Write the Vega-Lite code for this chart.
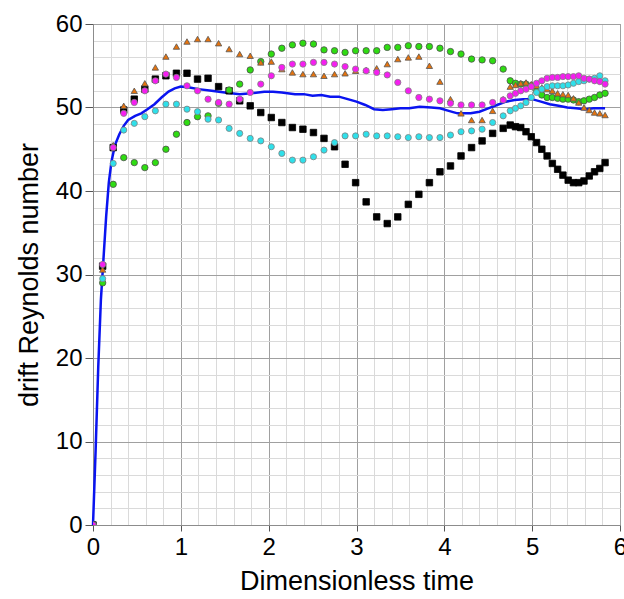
{
  "$schema": "https://vega.github.io/schema/vega-lite/v6.json",
  "width": 527,
  "height": 501,
  "autosize": {"type": "none"},
  "padding": {"left": 93, "top": 24, "right": 4, "bottom": 74},
  "background": "white",
  "config": {
    "view": {"stroke": "#8c8c8c", "strokeWidth": 1},
    "font": "Liberation Sans",
    "axis": {"labelFont": "Liberation Sans", "titleFont": "Liberation Sans", "labelColor": "#000", "titleColor": "#000", "titleFontWeight": "normal", "labelFontSize": 24, "titleFontSize": 27, "domainColor": "#8c8c8c", "tickColor": "#555", "labelOverlap": false, "labelFlush": false, "labelBound": false}
  },
  "datasets": {
    "blue": [
      {"t": 0, "v": 0}, {"t": 0.03, "v": 9}, {"t": 0.06, "v": 19}, {"t": 0.09, "v": 27}, {"t": 0.12, "v": 32}, {"t": 0.15, "v": 37}, {"t": 0.18, "v": 41}, {"t": 0.21, "v": 43.5}, {"t": 0.25, "v": 45.5}, {"t": 0.3, "v": 46.8}, {"t": 0.35, "v": 47.8}, {"t": 0.4, "v": 48.5}, {"t": 0.48, "v": 49}, {"t": 0.55, "v": 49.3}, {"t": 0.62, "v": 49.8}, {"t": 0.7, "v": 50.4}, {"t": 0.78, "v": 51.2}, {"t": 0.86, "v": 51.9}, {"t": 0.93, "v": 52.3}, {"t": 1.0, "v": 52.5}, {"t": 1.1, "v": 52.4}, {"t": 1.2, "v": 52.2}, {"t": 1.35, "v": 52.0}, {"t": 1.5, "v": 51.8}, {"t": 1.67, "v": 51.6}, {"t": 1.8, "v": 51.7}, {"t": 1.95, "v": 51.9}, {"t": 2.05, "v": 51.9}, {"t": 2.15, "v": 51.8}, {"t": 2.3, "v": 51.6}, {"t": 2.4, "v": 51.6}, {"t": 2.5, "v": 51.4}, {"t": 2.6, "v": 51.5}, {"t": 2.7, "v": 51.3}, {"t": 2.8, "v": 51.3}, {"t": 2.9, "v": 51.0}, {"t": 3.0, "v": 50.7}, {"t": 3.1, "v": 50.3}, {"t": 3.2, "v": 49.8}, {"t": 3.3, "v": 49.7}, {"t": 3.4, "v": 49.8}, {"t": 3.5, "v": 49.9}, {"t": 3.6, "v": 49.9}, {"t": 3.72, "v": 50.1}, {"t": 3.85, "v": 50.0}, {"t": 3.95, "v": 49.9}, {"t": 4.05, "v": 49.6}, {"t": 4.15, "v": 49.3}, {"t": 4.3, "v": 49.3}, {"t": 4.4, "v": 49.5}, {"t": 4.5, "v": 49.9}, {"t": 4.6, "v": 50.3}, {"t": 4.7, "v": 50.7}, {"t": 4.8, "v": 50.9}, {"t": 4.9, "v": 51.0}, {"t": 5.0, "v": 51.0}, {"t": 5.1, "v": 50.7}, {"t": 5.2, "v": 50.4}, {"t": 5.3, "v": 50.2}, {"t": 5.4, "v": 50.0}, {"t": 5.5, "v": 49.9}, {"t": 5.6, "v": 49.8}, {"t": 5.7, "v": 49.9}, {"t": 5.83, "v": 49.9}
    ],
    "pts": [
      {"s": "k", "t": 0, "v": 0}, {"s": "k", "t": 0.11, "v": 31.0}, {"s": "k", "t": 0.23, "v": 45.2}, {"s": "k", "t": 0.35, "v": 49.7}, {"s": "k", "t": 0.47, "v": 51.0}, {"s": "k", "t": 0.59, "v": 52.2}, {"s": "k", "t": 0.71, "v": 53.4}, {"s": "k", "t": 0.83, "v": 53.8}, {"s": "k", "t": 0.95, "v": 54.1}, {"s": "k", "t": 1.07, "v": 54.1}, {"s": "k", "t": 1.19, "v": 53.4}, {"s": "k", "t": 1.31, "v": 53.5}, {"s": "k", "t": 1.43, "v": 52.5}, {"s": "k", "t": 1.55, "v": 52.0}, {"s": "k", "t": 1.67, "v": 50.8}, {"s": "k", "t": 1.79, "v": 50.2}, {"s": "k", "t": 1.91, "v": 49.4}, {"s": "k", "t": 2.03, "v": 48.8}, {"s": "k", "t": 2.15, "v": 48.2}, {"s": "k", "t": 2.27, "v": 47.6}, {"s": "k", "t": 2.39, "v": 47.4}, {"s": "k", "t": 2.51, "v": 47.0}, {"s": "k", "t": 2.63, "v": 46.3}, {"s": "k", "t": 2.75, "v": 45.3}, {"s": "k", "t": 2.87, "v": 43.2}, {"s": "k", "t": 2.99, "v": 41.0}, {"s": "k", "t": 3.11, "v": 38.7}, {"s": "k", "t": 3.23, "v": 36.9}, {"s": "k", "t": 3.35, "v": 36.1}, {"s": "k", "t": 3.47, "v": 36.9}, {"s": "k", "t": 3.59, "v": 38.4}, {"s": "k", "t": 3.71, "v": 39.6}, {"s": "k", "t": 3.83, "v": 41.0}, {"s": "k", "t": 3.95, "v": 42.3}, {"s": "k", "t": 4.07, "v": 43.0}, {"s": "k", "t": 4.19, "v": 44.2}, {"s": "k", "t": 4.31, "v": 45.2}, {"s": "k", "t": 4.43, "v": 46.0}, {"s": "k", "t": 4.55, "v": 46.9}, {"s": "k", "t": 4.67, "v": 47.5}, {"s": "k", "t": 4.75, "v": 47.9}, {"s": "k", "t": 4.81, "v": 47.7}, {"s": "k", "t": 4.87, "v": 47.6}, {"s": "k", "t": 4.93, "v": 47.1}, {"s": "k", "t": 4.99, "v": 46.5}, {"s": "k", "t": 5.05, "v": 45.8}, {"s": "k", "t": 5.11, "v": 45.0}, {"s": "k", "t": 5.17, "v": 44.2}, {"s": "k", "t": 5.23, "v": 43.3}, {"s": "k", "t": 5.29, "v": 42.6}, {"s": "k", "t": 5.35, "v": 41.9}, {"s": "k", "t": 5.41, "v": 41.3}, {"s": "k", "t": 5.47, "v": 41.0}, {"s": "k", "t": 5.53, "v": 41.0}, {"s": "k", "t": 5.59, "v": 41.2}, {"s": "k", "t": 5.65, "v": 41.8}, {"s": "k", "t": 5.71, "v": 42.3}, {"s": "k", "t": 5.77, "v": 42.7}, {"s": "k", "t": 5.83, "v": 43.4},
      {"s": "g", "t": 0, "v": 0}, {"s": "g", "t": 0.11, "v": 29.0}, {"s": "g", "t": 0.23, "v": 40.8}, {"s": "g", "t": 0.35, "v": 44.0}, {"s": "g", "t": 0.47, "v": 43.4}, {"s": "g", "t": 0.59, "v": 42.8}, {"s": "g", "t": 0.71, "v": 43.4}, {"s": "g", "t": 0.83, "v": 45.0}, {"s": "g", "t": 0.95, "v": 46.8}, {"s": "g", "t": 1.07, "v": 48.2}, {"s": "g", "t": 1.19, "v": 48.9}, {"s": "g", "t": 1.31, "v": 49.0}, {"s": "g", "t": 1.43, "v": 50.5}, {"s": "g", "t": 1.55, "v": 52.1}, {"s": "g", "t": 1.67, "v": 52.8}, {"s": "g", "t": 1.79, "v": 54.5}, {"s": "g", "t": 1.91, "v": 55.5}, {"s": "g", "t": 2.03, "v": 56.4}, {"s": "g", "t": 2.15, "v": 57.1}, {"s": "g", "t": 2.27, "v": 57.5}, {"s": "g", "t": 2.39, "v": 57.7}, {"s": "g", "t": 2.51, "v": 57.6}, {"s": "g", "t": 2.63, "v": 56.9}, {"s": "g", "t": 2.75, "v": 56.8}, {"s": "g", "t": 2.87, "v": 56.6}, {"s": "g", "t": 2.99, "v": 56.8}, {"s": "g", "t": 3.11, "v": 56.8}, {"s": "g", "t": 3.23, "v": 56.8}, {"s": "g", "t": 3.35, "v": 57.2}, {"s": "g", "t": 3.47, "v": 57.2}, {"s": "g", "t": 3.59, "v": 57.4}, {"s": "g", "t": 3.71, "v": 57.3}, {"s": "g", "t": 3.83, "v": 57.3}, {"s": "g", "t": 3.95, "v": 57.1}, {"s": "g", "t": 4.07, "v": 56.7}, {"s": "g", "t": 4.19, "v": 56.4}, {"s": "g", "t": 4.31, "v": 55.8}, {"s": "g", "t": 4.43, "v": 55.7}, {"s": "g", "t": 4.55, "v": 55.6}, {"s": "g", "t": 4.67, "v": 54.6}, {"s": "g", "t": 4.75, "v": 53.2}, {"s": "g", "t": 4.81, "v": 52.9}, {"s": "g", "t": 4.87, "v": 52.8}, {"s": "g", "t": 4.93, "v": 52.8}, {"s": "g", "t": 4.99, "v": 52.6}, {"s": "g", "t": 5.05, "v": 52.0}, {"s": "g", "t": 5.11, "v": 51.5}, {"s": "g", "t": 5.17, "v": 51.2}, {"s": "g", "t": 5.23, "v": 51.2}, {"s": "g", "t": 5.29, "v": 51.1}, {"s": "g", "t": 5.35, "v": 51.0}, {"s": "g", "t": 5.41, "v": 51.0}, {"s": "g", "t": 5.47, "v": 50.9}, {"s": "g", "t": 5.53, "v": 50.7}, {"s": "g", "t": 5.59, "v": 50.8}, {"s": "g", "t": 5.65, "v": 51.0}, {"s": "g", "t": 5.71, "v": 51.2}, {"s": "g", "t": 5.77, "v": 51.5}, {"s": "g", "t": 5.83, "v": 51.7},
      {"s": "o", "t": 0, "v": 0}, {"s": "o", "t": 0.11, "v": 30.6}, {"s": "o", "t": 0.23, "v": 45.5}, {"s": "o", "t": 0.35, "v": 50.2}, {"s": "o", "t": 0.47, "v": 52.0}, {"s": "o", "t": 0.59, "v": 52.9}, {"s": "o", "t": 0.71, "v": 54.8}, {"s": "o", "t": 0.83, "v": 56.1}, {"s": "o", "t": 0.95, "v": 57.3}, {"s": "o", "t": 1.07, "v": 57.9}, {"s": "o", "t": 1.19, "v": 58.2}, {"s": "o", "t": 1.31, "v": 58.2}, {"s": "o", "t": 1.43, "v": 57.7}, {"s": "o", "t": 1.55, "v": 57.0}, {"s": "o", "t": 1.67, "v": 56.4}, {"s": "o", "t": 1.79, "v": 56.2}, {"s": "o", "t": 1.91, "v": 55.4}, {"s": "o", "t": 2.03, "v": 55.5}, {"s": "o", "t": 2.15, "v": 54.6}, {"s": "o", "t": 2.27, "v": 54.2}, {"s": "o", "t": 2.39, "v": 54.0}, {"s": "o", "t": 2.51, "v": 54.0}, {"s": "o", "t": 2.63, "v": 53.8}, {"s": "o", "t": 2.75, "v": 54.0}, {"s": "o", "t": 2.87, "v": 54.1}, {"s": "o", "t": 2.99, "v": 54.4}, {"s": "o", "t": 3.11, "v": 54.5}, {"s": "o", "t": 3.23, "v": 54.7}, {"s": "o", "t": 3.35, "v": 55.2}, {"s": "o", "t": 3.47, "v": 55.8}, {"s": "o", "t": 3.59, "v": 56.0}, {"s": "o", "t": 3.71, "v": 56.1}, {"s": "o", "t": 3.83, "v": 55.0}, {"s": "o", "t": 3.95, "v": 53.1}, {"s": "o", "t": 4.07, "v": 51.0}, {"s": "o", "t": 4.19, "v": 49.3}, {"s": "o", "t": 4.31, "v": 48.5}, {"s": "o", "t": 4.43, "v": 48.5}, {"s": "o", "t": 4.55, "v": 49.6}, {"s": "o", "t": 4.67, "v": 51.0}, {"s": "o", "t": 4.75, "v": 52.5}, {"s": "o", "t": 4.81, "v": 52.7}, {"s": "o", "t": 4.87, "v": 52.9}, {"s": "o", "t": 4.93, "v": 53.0}, {"s": "o", "t": 4.99, "v": 52.8}, {"s": "o", "t": 5.05, "v": 52.6}, {"s": "o", "t": 5.11, "v": 52.4}, {"s": "o", "t": 5.17, "v": 52.2}, {"s": "o", "t": 5.23, "v": 52.0}, {"s": "o", "t": 5.29, "v": 51.7}, {"s": "o", "t": 5.35, "v": 51.6}, {"s": "o", "t": 5.41, "v": 51.5}, {"s": "o", "t": 5.47, "v": 51.1}, {"s": "o", "t": 5.53, "v": 50.6}, {"s": "o", "t": 5.59, "v": 50.0}, {"s": "o", "t": 5.65, "v": 49.7}, {"s": "o", "t": 5.71, "v": 49.4}, {"s": "o", "t": 5.77, "v": 49.3}, {"s": "o", "t": 5.83, "v": 49.1},
      {"s": "c", "t": 0, "v": 0}, {"s": "c", "t": 0.11, "v": 29.5}, {"s": "c", "t": 0.23, "v": 43.3}, {"s": "c", "t": 0.35, "v": 47.3}, {"s": "c", "t": 0.47, "v": 48.1}, {"s": "c", "t": 0.59, "v": 48.9}, {"s": "c", "t": 0.71, "v": 49.6}, {"s": "c", "t": 0.83, "v": 50.4}, {"s": "c", "t": 0.95, "v": 50.4}, {"s": "c", "t": 1.07, "v": 49.8}, {"s": "c", "t": 1.19, "v": 49.5}, {"s": "c", "t": 1.31, "v": 48.6}, {"s": "c", "t": 1.43, "v": 48.5}, {"s": "c", "t": 1.55, "v": 47.5}, {"s": "c", "t": 1.67, "v": 46.9}, {"s": "c", "t": 1.79, "v": 46.3}, {"s": "c", "t": 1.91, "v": 46.0}, {"s": "c", "t": 2.03, "v": 45.3}, {"s": "c", "t": 2.15, "v": 44.5}, {"s": "c", "t": 2.27, "v": 43.7}, {"s": "c", "t": 2.39, "v": 43.7}, {"s": "c", "t": 2.51, "v": 44.1}, {"s": "c", "t": 2.63, "v": 44.9}, {"s": "c", "t": 2.75, "v": 45.8}, {"s": "c", "t": 2.87, "v": 46.6}, {"s": "c", "t": 2.99, "v": 46.6}, {"s": "c", "t": 3.11, "v": 46.8}, {"s": "c", "t": 3.23, "v": 46.6}, {"s": "c", "t": 3.35, "v": 46.6}, {"s": "c", "t": 3.47, "v": 46.5}, {"s": "c", "t": 3.59, "v": 46.4}, {"s": "c", "t": 3.71, "v": 46.5}, {"s": "c", "t": 3.83, "v": 46.4}, {"s": "c", "t": 3.95, "v": 46.4}, {"s": "c", "t": 4.07, "v": 46.7}, {"s": "c", "t": 4.19, "v": 47.1}, {"s": "c", "t": 4.31, "v": 47.2}, {"s": "c", "t": 4.43, "v": 47.4}, {"s": "c", "t": 4.55, "v": 48.2}, {"s": "c", "t": 4.67, "v": 49.0}, {"s": "c", "t": 4.75, "v": 49.6}, {"s": "c", "t": 4.81, "v": 49.9}, {"s": "c", "t": 4.87, "v": 50.2}, {"s": "c", "t": 4.93, "v": 50.6}, {"s": "c", "t": 4.99, "v": 51.2}, {"s": "c", "t": 5.05, "v": 51.8}, {"s": "c", "t": 5.11, "v": 52.2}, {"s": "c", "t": 5.17, "v": 52.5}, {"s": "c", "t": 5.23, "v": 52.6}, {"s": "c", "t": 5.29, "v": 52.6}, {"s": "c", "t": 5.35, "v": 52.6}, {"s": "c", "t": 5.41, "v": 52.7}, {"s": "c", "t": 5.47, "v": 52.9}, {"s": "c", "t": 5.53, "v": 53.1}, {"s": "c", "t": 5.59, "v": 53.2}, {"s": "c", "t": 5.65, "v": 53.4}, {"s": "c", "t": 5.71, "v": 53.5}, {"s": "c", "t": 5.77, "v": 53.8}, {"s": "c", "t": 5.83, "v": 53.2},
      {"s": "m", "t": 0, "v": 0}, {"s": "m", "t": 0.11, "v": 31.2}, {"s": "m", "t": 0.23, "v": 45.2}, {"s": "m", "t": 0.35, "v": 49.3}, {"s": "m", "t": 0.47, "v": 50.6}, {"s": "m", "t": 0.59, "v": 52.0}, {"s": "m", "t": 0.71, "v": 53.2}, {"s": "m", "t": 0.83, "v": 54.0}, {"s": "m", "t": 0.95, "v": 53.6}, {"s": "m", "t": 1.07, "v": 52.6}, {"s": "m", "t": 1.19, "v": 52.0}, {"s": "m", "t": 1.31, "v": 51.0}, {"s": "m", "t": 1.43, "v": 50.6}, {"s": "m", "t": 1.55, "v": 50.4}, {"s": "m", "t": 1.67, "v": 51.0}, {"s": "m", "t": 1.79, "v": 51.8}, {"s": "m", "t": 1.91, "v": 52.8}, {"s": "m", "t": 2.03, "v": 53.8}, {"s": "m", "t": 2.15, "v": 54.8}, {"s": "m", "t": 2.27, "v": 55.2}, {"s": "m", "t": 2.39, "v": 55.2}, {"s": "m", "t": 2.51, "v": 55.4}, {"s": "m", "t": 2.63, "v": 55.4}, {"s": "m", "t": 2.75, "v": 55.2}, {"s": "m", "t": 2.87, "v": 54.9}, {"s": "m", "t": 2.99, "v": 54.6}, {"s": "m", "t": 3.11, "v": 54.4}, {"s": "m", "t": 3.23, "v": 54.2}, {"s": "m", "t": 3.35, "v": 53.9}, {"s": "m", "t": 3.47, "v": 53.0}, {"s": "m", "t": 3.59, "v": 52.0}, {"s": "m", "t": 3.71, "v": 51.2}, {"s": "m", "t": 3.83, "v": 51.0}, {"s": "m", "t": 3.95, "v": 50.8}, {"s": "m", "t": 4.07, "v": 50.5}, {"s": "m", "t": 4.19, "v": 50.3}, {"s": "m", "t": 4.31, "v": 50.3}, {"s": "m", "t": 4.43, "v": 50.3}, {"s": "m", "t": 4.55, "v": 50.6}, {"s": "m", "t": 4.67, "v": 50.9}, {"s": "m", "t": 4.75, "v": 51.4}, {"s": "m", "t": 4.81, "v": 51.7}, {"s": "m", "t": 4.87, "v": 52.0}, {"s": "m", "t": 4.93, "v": 52.2}, {"s": "m", "t": 4.99, "v": 52.5}, {"s": "m", "t": 5.05, "v": 52.9}, {"s": "m", "t": 5.11, "v": 53.2}, {"s": "m", "t": 5.17, "v": 53.5}, {"s": "m", "t": 5.23, "v": 53.6}, {"s": "m", "t": 5.29, "v": 53.6}, {"s": "m", "t": 5.35, "v": 53.7}, {"s": "m", "t": 5.41, "v": 53.7}, {"s": "m", "t": 5.47, "v": 53.7}, {"s": "m", "t": 5.53, "v": 53.8}, {"s": "m", "t": 5.59, "v": 53.5}, {"s": "m", "t": 5.65, "v": 53.4}, {"s": "m", "t": 5.71, "v": 53.2}, {"s": "m", "t": 5.77, "v": 53.1}, {"s": "m", "t": 5.83, "v": 52.8}
    ]
  },
  "encoding": {
    "x": {
      "field": "t", "type": "quantitative",
      "scale": {"domain": [0, 6], "nice": false, "zero": false},
      "axis": {
        "title": "Dimensionless time",
        "values": [0, 0.2, 0.4, 0.6, 0.8, 1, 1.2, 1.4, 1.6, 1.8, 2, 2.2, 2.4, 2.6, 2.8, 3, 3.2, 3.4, 3.6, 3.8, 4, 4.2, 4.4, 4.6, 4.8, 5, 5.2, 5.4, 5.6, 5.8, 6],
        "labelExpr": "datum.value % 1 === 0 ? format(datum.value, 'd') : ''",
        "grid": true,
        "gridColor": {"condition": {"test": "datum.value % 1 === 0", "value": "#a0a0a0"}, "value": "#dadada"},
        "tickOpacity": {"condition": {"test": "datum.value % 1 === 0", "value": 1}, "value": 0},
        "tickSize": 6,
        "labelPadding": 4,
        "titlePadding": 9
      }
    },
    "y": {
      "field": "v", "type": "quantitative",
      "scale": {"domain": [0, 60], "nice": false},
      "axis": {
        "title": "drift Reynolds number",
        "values": [0, 2, 4, 6, 8, 10, 12, 14, 16, 18, 20, 22, 24, 26, 28, 30, 32, 34, 36, 38, 40, 42, 44, 46, 48, 50, 52, 54, 56, 58, 60],
        "labelExpr": "datum.value % 10 === 0 ? format(datum.value, 'd') : ''",
        "grid": true,
        "gridColor": {"condition": {"test": "datum.value % 10 === 0", "value": "#a0a0a0"}, "value": "#dadada"},
        "tickOpacity": {"condition": {"test": "datum.value % 10 === 0", "value": 1}, "value": 0},
        "tickSize": 8,
        "labelPadding": 3,
        "titlePadding": 12
      }
    }
  },
  "layer": [
    {
      "data": {"name": "blue"},
      "mark": {"type": "line", "color": "#0a14f0", "strokeWidth": 2.5},
      "encoding": {}
    },
    {
      "data": {"name": "pts"},
      "mark": {"type": "point", "filled": true, "opacity": 1, "strokeWidth": 0.8, "clip": true},
      "encoding": {
        "shape": {"field": "s", "type": "nominal", "scale": {"domain": ["k", "g", "o", "m", "c"], "range": ["square", "circle", "triangle-up", "circle", "circle"]}, "legend": null},
        "fill": {"field": "s", "type": "nominal", "scale": {"domain": ["k", "g", "o", "m", "c"], "range": ["#000000", "#2fdc12", "#e5730e", "#f51ef0", "#2fe0ea"]}, "legend": null},
        "stroke": {"field": "s", "type": "nominal", "scale": {"domain": ["k", "g", "o", "m", "c"], "range": ["#000000", "#4d4d4d", "#555555", "#808080", "#808080"]}, "legend": null},
        "size": {"field": "s", "type": "nominal", "scale": {"domain": ["k", "g", "o", "m", "c"], "range": [42, 38, 52, 85, 85]}, "legend": null}
      }
    }
  ]
}
